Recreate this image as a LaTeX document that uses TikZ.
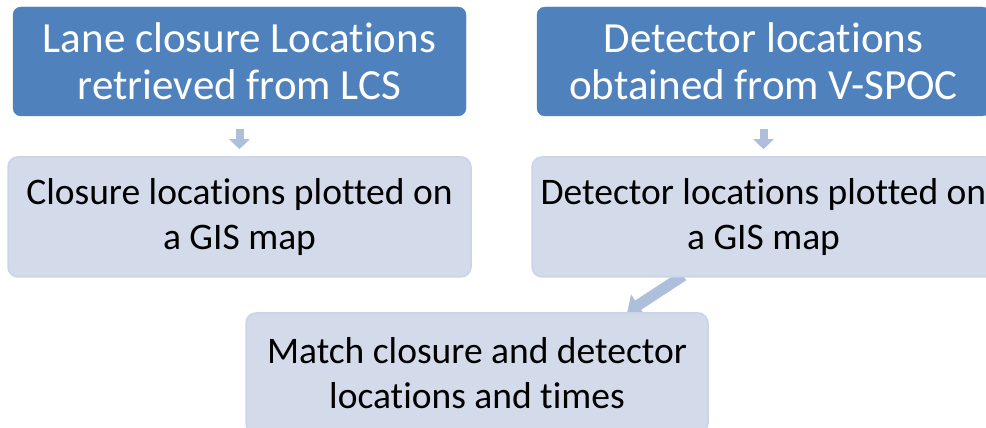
\documentclass[tikz,border=0pt]{standalone}
\usepackage{fontspec}
\setmainfont{Carlito}[Ligatures=NoCommon]
\usetikzlibrary{shapes,arrows.meta}
\usetikzlibrary{backgrounds,positioning,calc}

\definecolor{DarkBlue}{HTML}{4F81BD}
\definecolor{PaleBlue}{HTML}{D3DAEA}
\definecolor{PaleEdge}{HTML}{CBD4E7}
\definecolor{ArrowBlue}{HTML}{ADBFDB}

\begin{document}
\begin{tikzpicture}[x=1pt, y=1pt, align=center, node distance=40pt, >={Triangle[width=20pt,length=10pt]}]

%local definitions
\tikzstyle{SourceBox} = [draw=DarkBlue, fill=DarkBlue, rounded corners=8pt, text=white, minimum width=453pt, minimum height=109pt, font=\fontsize{43}{47}\selectfont]
\tikzstyle{StepBox} = [draw=PaleEdge, line width=1.5pt, fill=PaleBlue, rounded corners=10pt, text=black, minimum width=463pt, minimum height=120pt, font=\fontsize{37.5}{45}\selectfont]
\tikzstyle{FlowArrow} = [->, draw=ArrowBlue, line width=8pt]

\useasboundingbox (0,0) rectangle (986,428);

%board components
	\node [SourceBox] (LaneClosure) at (239.5,366.5) {Lane closure Locations\\retrieved from LCS};
	\node [SourceBox] (DetectorSource) at (763.5,366.5) {Detector locations\\obtained from V-SPOC};

	\node [StepBox, below=40pt of LaneClosure] (ClosurePlot) {Closure locations plotted on\\a GIS map};
	\node [StepBox, below=40pt of DetectorSource] (DetectorPlot) {Detector locations plotted on\\a GIS map};

	\node [StepBox, minimum width=462pt] (MatchStep) at (477,55) {Match closure and detector\\locations and times};

%connections
\begin{scope}[on background layer]
	\draw [FlowArrow, shorten <=13pt, shorten >=7pt] (LaneClosure) -- (ClosurePlot);
	\draw [FlowArrow, shorten <=13pt, shorten >=7pt] (DetectorSource) -- (DetectorPlot);
	\draw [FlowArrow, line width=11pt, -{Triangle[width=25pt,length=13pt]}] ($(DetectorPlot.south west)+(152,2)$) -- ($(MatchStep.north west)+(382,0)$);
\end{scope}

\end{tikzpicture}
\end{document}
